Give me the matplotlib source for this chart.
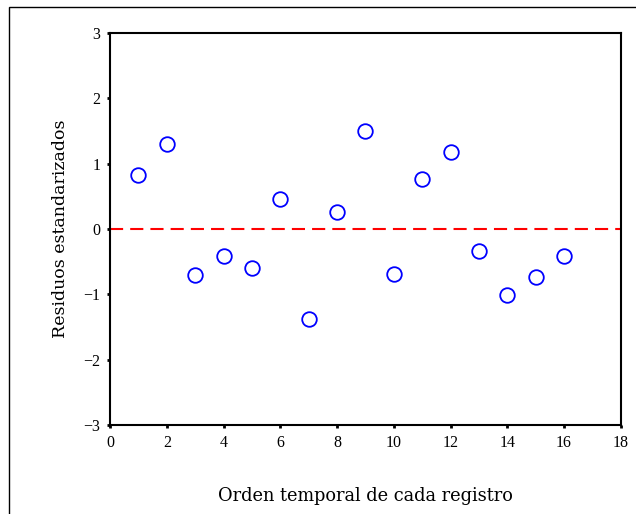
import matplotlib.pyplot as plt
from matplotlib.patches import Rectangle

# orden temporal y residuos estandarizados
orden = [1, 2, 3, 4, 5, 6, 7, 8, 9, 10, 11, 12, 13, 14, 15, 16]
residuos = [0.83, 1.30, -0.70, -0.41, -0.60, 0.46, -1.38, 0.26,
            1.50, -0.69, 0.77, 1.18, -0.34, -1.01, -0.74, -0.41]
xticks = [0, 2, 4, 6, 8, 10, 12, 14, 16, 18]
yticks = [-3, -2, -1, 0, 1, 2, 3]

fig = plt.figure(figsize=(6.36, 5.14), dpi=100)
ax = fig.add_axes([0.173, 0.173, 0.803, 0.763])

# marco exterior
fig.patches.append(Rectangle((0.014, -0.1), 1.2, 1.086, transform=fig.transFigure,
                             fill=False, edgecolor='black', linewidth=1.0))

ax.axhline(0, color='red', linestyle=(0, (6.3, 3.4)), linewidth=1.5, zorder=1)
ax.plot(orden, residuos, linestyle='none', marker='o', markersize=10.5,
        markerfacecolor='none', markeredgecolor='blue', markeredgewidth=1.3, zorder=2)

ax.set_xlim(0, 18)
ax.set_ylim(-3, 3)
ax.set_xticks(xticks)
ax.set_yticks(yticks)
ax.set_yticklabels(['\u22123', '\u22122', '\u22121', '0', '1', '2', '3'])
ax.tick_params(direction='out', length=2, width=2, labelsize=11.5, pad=5)
for s in ax.spines.values():
    s.set_linewidth(1.5)

font = 'Liberation Serif'
for lab in ax.get_xticklabels() + ax.get_yticklabels():
    lab.set_fontfamily(font)

ax.set_xlabel('Orden temporal de cada registro', fontsize=12.8, family='DejaVu Serif', labelpad=26)
ax.set_ylabel('Residuos estandarizados', fontsize=12.5, family='DejaVu Serif', labelpad=10)

fig.savefig('out.png', dpi=100)
